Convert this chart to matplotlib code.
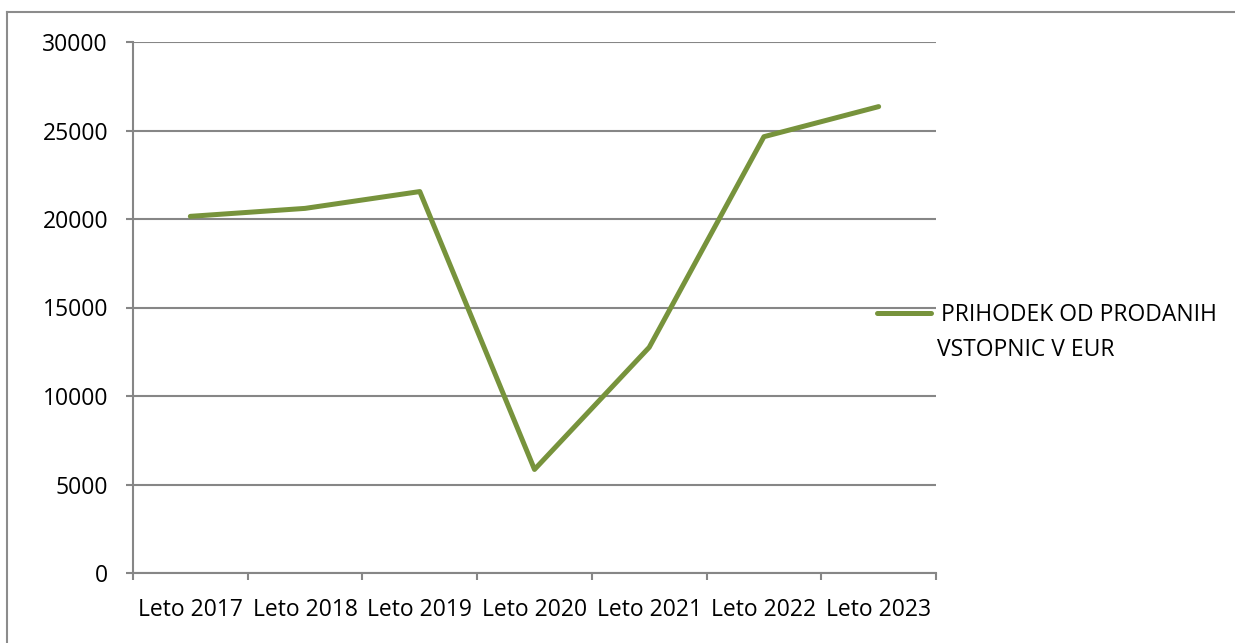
import numpy as np
import matplotlib
matplotlib.use('Agg')
import matplotlib.pyplot as plt
from matplotlib.lines import Line2D

# data
years = ['Leto 2017', 'Leto 2018', 'Leto 2019', 'Leto 2020', 'Leto 2021', 'Leto 2022', 'Leto 2023']
revenue = [20150, 20600, 21550, 5850, 12750, 24650, 26350]
series_name = 'PRIHODEK OD PRODANIH'
series_name_2 = 'VSTOPNIC V EUR'

plt.rcParams['font.family'] = ['Open Sans', 'DejaVu Sans']
grid_col = '#868686'
line_col = '#77933c'
fs = 16.5

fig = plt.figure(figsize=(12.35, 6.43), dpi=100)
ax = fig.add_axes([133 / 1235, 1 - 573 / 643, (936 - 133) / 1235, (573 - 42) / 643])

x = np.arange(len(years))
ax.plot(x, revenue, color=line_col, lw=3.6, solid_capstyle='round', solid_joinstyle='round',
        label=series_name, zorder=3)

ax.set_xlim(-0.5, len(years) - 0.5)
ax.set_ylim(0, 30000)
ax.set_yticks(np.arange(0, 30001, 5000))
ax.yaxis.grid(True, color=grid_col, lw=1.5)
ax.set_axisbelow(True)

# category ticks at boundaries, labels centered
ax.set_xticks(np.arange(-0.5, len(years)))
ax.set_xticklabels([])
ax.set_xticks(x, minor=True)
ax.set_xticklabels(years, minor=True, fontsize=fs)
ax.tick_params(axis='x', which='major', length=5, width=1.5, color=grid_col, direction='out')
ax.tick_params(axis='x', which='minor', length=0, pad=18)
ax.tick_params(axis='y', length=5, width=1.5, color=grid_col, direction='out', pad=13, labelsize=fs)

for s in ['top', 'right']:
    ax.spines[s].set_visible(False)
for s in ['left', 'bottom']:
    ax.spines[s].set_color(grid_col)
    ax.spines[s].set_linewidth(1.5)

leg = ax.legend(loc='center left', bbox_to_anchor=(877 / 1235, 1 - 315 / 643),
                bbox_transform=fig.transFigure, frameon=False, fontsize=fs,
                borderpad=0, borderaxespad=0, handlelength=2.35, handletextpad=0.45)
leg.get_lines()[0].set_solid_capstyle('round')
# second line of the wrapped legend label
fig.text(937 / 1235, 1 - 350 / 643, series_name_2, fontsize=fs, ha='left', va='center')

# outer chart border (only top and left visible)
fig.add_artist(Line2D([7 / 1235, 7 / 1235], [0, 1 - 12 / 643], transform=fig.transFigure,
                      color='#8c8c8c', lw=1.5))
fig.add_artist(Line2D([7 / 1235, 1], [1 - 12 / 643, 1 - 12 / 643], transform=fig.transFigure,
                      color='#8c8c8c', lw=1.5))

fig.savefig('out.png', dpi=100)
